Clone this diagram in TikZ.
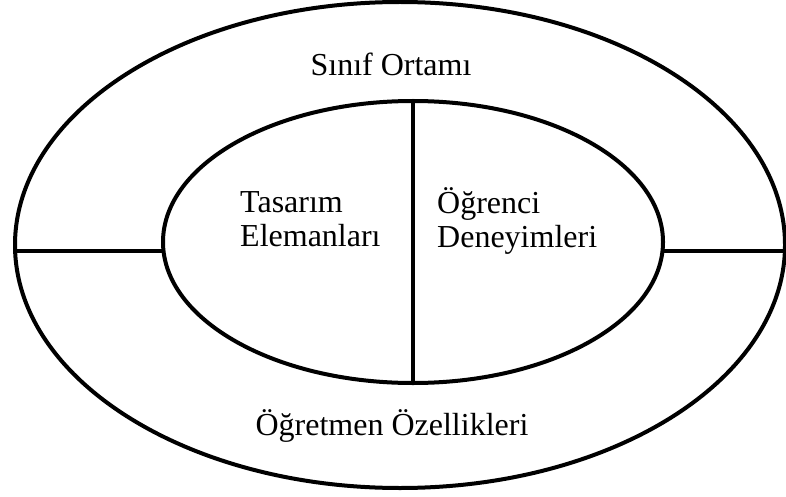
\documentclass[tikz,border=0pt]{standalone}
\usepackage{fontspec}
\setmainfont{Liberation Serif}
\usetikzlibrary{shapes.geometric}
\begin{document}
\begin{tikzpicture}[x=1pt,y=-1pt,
  ring/.style={draw=black,line width=4pt,ellipse,inner sep=0pt},
  sep/.style={draw=black,line width=3.8pt},
  lbl/.style={font=\fontsize{32}{34}\selectfont,inner sep=0pt,text=black}]
\useasboundingbox (0,0) rectangle (786,497);
\node[ring,minimum width=770pt,minimum height=486pt] (outer) at (400,245) {};
\node[ring,minimum width=500pt,minimum height=282pt] (inner) at (413,242) {};
\draw[sep] (inner.north) -- (inner.south);
\coordinate (lo) at (15,251);
\coordinate (li) at (163,251);
\coordinate (ri) at (663,251);
\coordinate (ro) at (786,251);
\draw[sep] (lo) -- (li);
\draw[sep] (ri) -- (ro);
\node[lbl,anchor=base] (t1) at (391,76) {Sınıf Ortamı};
\node[lbl,anchor=base west,align=left] (t2) at (240,246) {Tasarım\\Elemanları};
\node[lbl,anchor=base west,align=left] (t3) at (437,247) {Öğrenci\\Deneyimleri};
\node[lbl,anchor=base] (t4) at (392,435) {Öğretmen Özellikleri};
\end{tikzpicture}
\end{document}
